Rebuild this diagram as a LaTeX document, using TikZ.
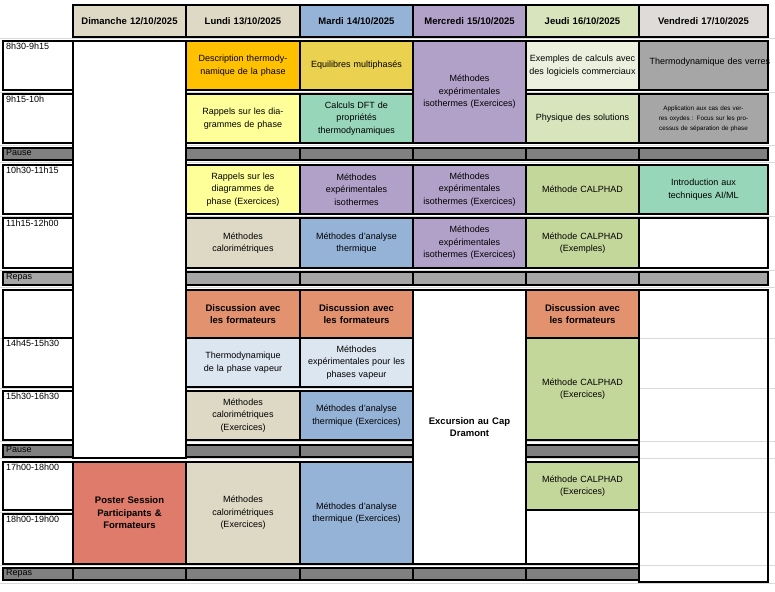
\documentclass[tikz,border=0pt]{standalone}
\usepackage{fontspec}
\setmainfont{Liberation Sans}
\definecolor{hdrbeige}{HTML}{DDD9C4}
\definecolor{hdrblue}{HTML}{95B3D7}
\definecolor{hdrpurple}{HTML}{B1A0C7}
\definecolor{hdrgreen}{HTML}{D8E4BC}
\definecolor{hdrgrey}{HTML}{DFDBD9}
\definecolor{corange}{HTML}{FFC000}
\definecolor{cmustard}{HTML}{EBD150}
\definecolor{cyellow}{HTML}{FFFF99}
\definecolor{cmint}{HTML}{97D6B9}
\definecolor{cpaleblue}{HTML}{DCE6F1}
\definecolor{csalmon}{HTML}{E3926F}
\definecolor{cred}{HTML}{DF7B6A}
\definecolor{cgreen}{HTML}{C4D79B}
\definecolor{cpalegreen}{HTML}{EBF1DE}
\definecolor{cgrey}{HTML}{A6A6A6}
\definecolor{cdark}{HTML}{808080}
\tikzset{
 cellline/.style={draw=black,line width=1.6pt},
 txt/.style={align=center,text width=108pt,font=\fontsize{9}{12.5}\selectfont,inner sep=0pt},
 btxt/.style={txt,font=\fontsize{9.5}{12.5}\selectfont\bfseries},
 tlab/.style={anchor=north west,font=\fontsize{9}{11}\selectfont,inner sep=0pt}
}
\newcounter{cellno}
% x1 x2 y1 y2 fill text
\newcommand\cellbox[6]{\stepcounter{cellno}%
 \draw[cellline,fill=#5] (#1,#3) rectangle (#2,#4);
 \node[txt] (c\arabic{cellno}) at ({(#1+#2)/2},{(#3+#4)/2}) {#6};}
\newcommand\bcellbox[6]{\stepcounter{cellno}%
 \draw[cellline,fill=#5] (#1,#3) rectangle (#2,#4);
 \node[btxt] (c\arabic{cellno}) at ({(#1+#2)/2},{(#3+#4)/2}) {#6};}
\newcommand\timebox[4]{\stepcounter{cellno}%
 \draw[cellline,fill=#3] (3,#1) rectangle (73,#2);
 \node[tlab] (t\arabic{cellno}) at (6,#1+1.5) {#4};}
\begin{document}
\begin{tikzpicture}[x=1pt,y=-1pt]
\useasboundingbox (0,0) rectangle (775,591);
\fill[white] (0,0) rectangle (775,591);
% faint grid
\foreach \yy in {38,92,145,162,216,270,287,338,388,441,458,512,565,583}
  \draw[gray!30,line width=0.6pt] (0,\yy) -- (775,\yy);
% headers
\bcellbox{73}{186}{5}{37}{hdrbeige}{Dimanche 12/10/2025}
\bcellbox{186}{300}{5}{37}{hdrbeige}{Lundi 13/10/2025}
\bcellbox{300}{413}{5}{37}{hdrblue}{Mardi 14/10/2025}
\bcellbox{413}{526}{5}{37}{hdrpurple}{Mercredi 15/10/2025}
\bcellbox{526}{639}{5}{37}{hdrgreen}{Jeudi 16/10/2025}
\bcellbox{639}{768}{5}{37}{hdrgrey}{Vendredi 17/10/2025}
% time column
\timebox{41}{90}{white}{8h30-9h15}
\timebox{94}{143}{white}{9h15-10h}
\timebox{148}{160}{cdark}{Pause}
\timebox{165}{214}{white}{10h30-11h15}
\timebox{218}{268}{white}{11h15-12h00}
\timebox{272}{285}{cgrey}{Repas}
\timebox{290}{338}{white}{}
\timebox{338}{387}{white}{14h45-15h30}
\timebox{391}{440}{white}{15h30-16h30}
\timebox{445}{457}{cdark}{Pause}
\timebox{462}{510}{white}{17h00-18h00}
\timebox{514}{564}{white}{18h00-19h00}
\timebox{568}{580}{cdark}{Repas}
% Dimanche
\cellbox{73}{186}{41}{458}{white}{}
\bcellbox{73}{186}{462}{564}{cred}{Poster Session\\Participants \&\\Formateurs}
\cellbox{73}{186}{568}{580}{cdark}{}
% Lundi
\cellbox{186}{300}{41}{90}{corange}{Description thermodynamique de la phase}
\cellbox{186}{300}{94}{143}{cyellow}{Rappels sur les diagrammes de phase}
\cellbox{186}{300}{148}{160}{cdark}{}
\cellbox{186}{300}{165}{214}{cyellow}{Rappels sur les diagrammes de phase (Exercices)}
\cellbox{186}{300}{218}{268}{hdrbeige}{Méthodes\\calorimétriques}
\cellbox{186}{300}{272}{285}{cgrey}{}
\bcellbox{186}{300}{290}{338}{csalmon}{Discussion avec\\les formateurs}
\cellbox{186}{300}{338}{387}{cpaleblue}{Thermodynamique de la phase vapeur}
\cellbox{186}{300}{391}{440}{hdrbeige}{Méthodes\\calorimétriques\\(Exercices)}
\cellbox{186}{300}{445}{457}{cdark}{}
\cellbox{186}{300}{462}{564}{hdrbeige}{Méthodes\\calorimétriques\\(Exercices)}
\cellbox{186}{300}{568}{580}{cdark}{}
% Mardi
\cellbox{300}{413}{41}{90}{cmustard}{Equilibres multiphasés}
\cellbox{300}{413}{94}{143}{cmint}{Calculs DFT de\\propriétés\\thermodynamiques}
\cellbox{300}{413}{148}{160}{cdark}{}
\cellbox{300}{413}{165}{214}{hdrpurple}{Méthodes\\expérimentales\\isothermes}
\cellbox{300}{413}{218}{268}{hdrblue}{Méthodes d'analyse\\thermique}
\cellbox{300}{413}{272}{285}{cgrey}{}
\bcellbox{300}{413}{290}{338}{csalmon}{Discussion avec\\les formateurs}
\cellbox{300}{413}{338}{387}{cpaleblue}{Méthodes\\expérimentales pour les\\phases vapeur}
\cellbox{300}{413}{391}{440}{hdrblue}{Méthodes d'analyse\\thermique (Exercices)}
\cellbox{300}{413}{445}{457}{cdark}{}
\cellbox{300}{413}{462}{564}{hdrblue}{Méthodes d'analyse\\thermique (Exercices)}
\cellbox{300}{413}{568}{580}{cdark}{}
% Mercredi
\cellbox{413}{526}{41}{143}{hdrpurple}{Méthodes\\expérimentales\\isothermes (Exercices)}
\cellbox{413}{526}{148}{160}{cdark}{}
\cellbox{413}{526}{165}{214}{hdrpurple}{Méthodes\\expérimentales\\isothermes (Exercices)}
\cellbox{413}{526}{218}{268}{hdrpurple}{Méthodes\\expérimentales\\isothermes (Exercices)}
\cellbox{413}{526}{272}{285}{cgrey}{}
\bcellbox{413}{526}{290}{564}{white}{Excursion au Cap\\Dramont}
\cellbox{413}{526}{568}{580}{cdark}{}
% Jeudi
\cellbox{526}{639}{41}{90}{cpalegreen}{Exemples de calculs avec des logiciels commerciaux}
\cellbox{526}{639}{94}{143}{hdrgreen}{Physique des solutions}
\cellbox{526}{639}{148}{160}{cdark}{}
\cellbox{526}{639}{165}{214}{cgreen}{Méthode CALPHAD}
\cellbox{526}{639}{218}{268}{cgreen}{Méthode CALPHAD\\(Exemples)}
\cellbox{526}{639}{272}{285}{cgrey}{}
\bcellbox{526}{639}{290}{338}{csalmon}{Discussion avec\\les formateurs}
\cellbox{526}{639}{338}{440}{cgreen}{Méthode CALPHAD\\(Exercices)}
\cellbox{526}{639}{445}{457}{cdark}{}
\cellbox{526}{639}{462}{510}{cgreen}{Méthode CALPHAD\\(Exercices)}
\cellbox{526}{639}{510}{564}{white}{}
\cellbox{526}{639}{568}{580}{cdark}{}
% Vendredi
\cellbox{639}{768}{41}{90}{cgrey}{\raisebox{8pt}{Thermodynamique des verres}}
\stepcounter{cellno}
\draw[cellline,fill=cgrey] (639,94) rectangle (768,143);
\node[txt,text width=122pt,font=\fontsize{6.3}{10}\selectfont] (vapp) at (703.5,118.5) {Application aux cas des verres oxydes : Focus sur les processus de séparation de phase};
\cellbox{639}{768}{148}{160}{cdark}{}
\cellbox{639}{768}{165}{214}{cmint}{Introduction aux\\techniques AI/ML}
\cellbox{639}{768}{218}{268}{white}{}
\cellbox{639}{768}{272}{285}{cgrey}{}
\cellbox{639}{768}{290}{582}{white}{}
\foreach \yy in {338,388,441,458,512,565}
  \draw[gray!30,line width=0.6pt] (640,\yy) -- (767,\yy);
\end{tikzpicture}
\end{document}
